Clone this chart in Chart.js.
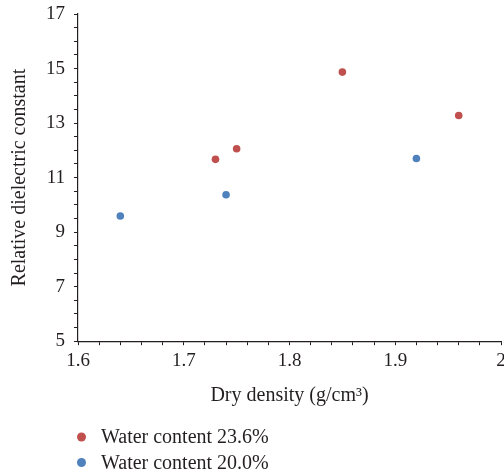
<!DOCTYPE html>
<html>
<head>
<meta charset="utf-8">
<script src="https://cdn.jsdelivr.net/npm/chart.js@4/dist/chart.umd.min.js"></script>
<style>
  html, body { margin: 0; padding: 0; background: #fff; overflow: hidden; }
  #wrap { width: 520px; height: 476px; }
</style>
</head>
<body>
<div id="wrap"><canvas id="chart" width="520" height="476"></canvas></div>
<script>
const seriesLabels = ["Water content 23.6%", "Water content 20.0%"];
const seriesColors = ["#c0504d", "#4f81bd"];
const densityHigh = [1.73, 1.75, 1.85, 1.96];
const dielectricHigh = [11.67, 12.06, 14.87, 13.28];
const densityLow = [1.64, 1.74, 1.92];
const dielectricLow = [9.59, 10.37, 11.70];

const serif = "'Liberation Serif', 'DejaVu Serif', serif";
const ink = "#231f20";

function toPoints(xs, ys) {
  return xs.map((x, i) => ({ x: x, y: ys[i] }));
}

// legend drawn as a vertical list under the plot
const bottomLegend = {
  id: "bottomLegend",
  afterDraw(chart) {
    const ctx = chart.ctx;
    ctx.save();
    ctx.font = "20px " + serif;
    ctx.textBaseline = "middle";
    chart.data.datasets.forEach((ds, i) => {
      const y = 437 + i * 25.5;
      ctx.fillStyle = ds.backgroundColor;
      ctx.beginPath();
      ctx.arc(81.5, y, 4.5, 0, Math.PI * 2);
      ctx.fill();
      ctx.fillStyle = ink;
      ctx.fillText(ds.label, 101, y + 1);
    });
    ctx.restore();
  }
};

function isMajor(v, step) {
  const r = v / step;
  return Math.abs(r - Math.round(r)) < 1e-6;
}

new Chart(document.getElementById("chart"), {
  type: "scatter",
  data: {
    datasets: [
      {
        label: seriesLabels[0],
        data: toPoints(densityHigh, dielectricHigh),
        backgroundColor: seriesColors[0],
        borderColor: seriesColors[0],
        pointRadius: 3.8,
        borderWidth: 0,
      },
      {
        label: seriesLabels[1],
        data: toPoints(densityLow, dielectricLow),
        backgroundColor: seriesColors[1],
        borderColor: seriesColors[1],
        pointRadius: 3.8,
        borderWidth: 0,
      },
    ],
  },
  options: {
    responsive: false,
    animation: false,
    layout: {
      padding: { top: 14, right: 19, bottom: 68, left: 0 },
    },
    plugins: {
      legend: { display: false },
      tooltip: { enabled: false },
    },
    scales: {
      x: {
        min: 1.6,
        max: 2.0,
        border: { color: ink, width: 1.2 },
        grid: { drawOnChartArea: false, tickLength: 4, tickColor: ink },
        ticks: {
          stepSize: 0.02,
          autoSkip: false,
          maxRotation: 0,
          padding: 4,
          color: ink,
          font: { family: serif, size: 19 },
          callback: (v) => (isMajor(v, 0.1) ? String(Math.round(v * 10) / 10) : ""),
        },
        title: {
          display: true,
          text: "Dry density (g/cm³)",
          color: ink,
          font: { family: serif, size: 20 },
          padding: { top: 8, bottom: 0 },
        },
      },
      y: {
        min: 5,
        max: 17,
        afterFit: (scale) => {
          scale.paddingTop = 0;
        },
        border: { color: ink, width: 1.2 },
        grid: { drawOnChartArea: false, tickLength: 4, tickColor: ink },
        ticks: {
          stepSize: 0.5,
          autoSkip: false,
          padding: 9,
          color: ink,
          font: { family: serif, size: 19 },
          callback: (v) => (isMajor(v, 1) && Math.round(v) % 2 === 1 ? String(v) : ""),
        },
        title: {
          display: true,
          text: "Relative dielectric constant",
          color: ink,
          font: { family: serif, size: 20 },
          padding: { top: 8, bottom: 5 },
        },
      },
    },
  },
  plugins: [bottomLegend],
});
</script>
</body>
</html>
